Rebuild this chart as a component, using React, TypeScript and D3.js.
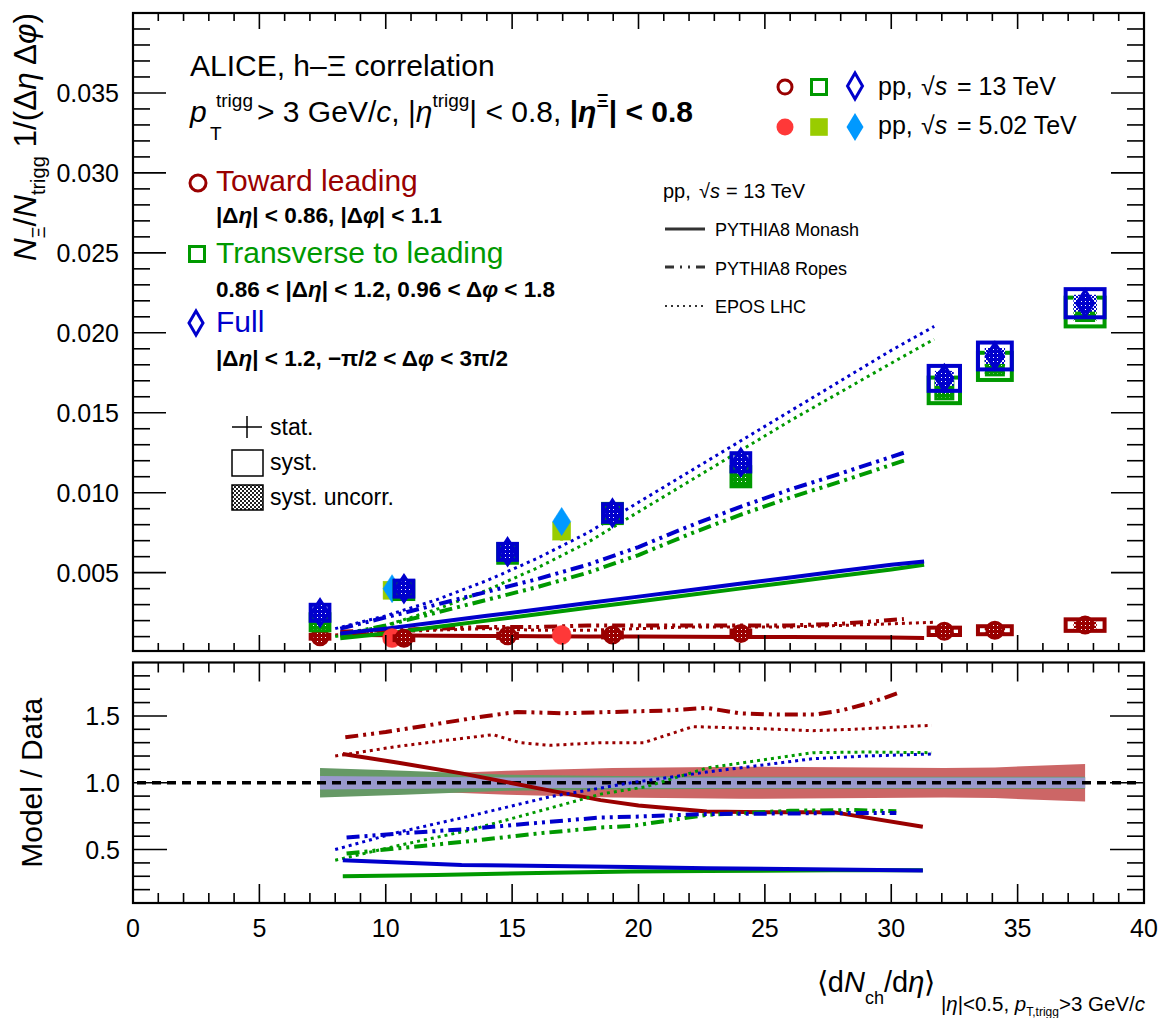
import React from 'react';
import * as d3 from 'd3';

const FONT = "'Liberation Sans', Arial, Helvetica, sans-serif";
const DARKRED = '#990000';
const GREEN = '#009900';
const BLUE = '#0000cc';
const RED502 = '#ff3838';
const LIME502 = '#99cc00';
const AZURE502 = '#0099ff';

// ---- ticks ----
const xTickValues = [0, 5, 10, 15, 20, 25, 30, 35, 40];
const xTickLabels = ['0', '5', '10', '15', '20', '25', '30', '35', '40'];
const yTopTickValues = [0.005, 0.01, 0.015, 0.02, 0.025, 0.03, 0.035];
const yTopTickLabels = ['0.005', '0.010', '0.015', '0.020', '0.025', '0.030', '0.035'];
const yRatioTickValues = [0.5, 1.0, 1.5];
const yRatioTickLabels = ['0.5', '1.0', '1.5'];

// ---- data pp 13 TeV ----
const x13 = [7.4, 10.72, 14.82, 18.97, 24.05, 32.1, 34.1, 37.67];
const x13Sys = [0.37, 0.37, 0.37, 0.37, 0.37, 0.62, 0.67, 0.77];
const toward13 = [0.00099, 0.0009, 0.00105, 0.0011, 0.0012, 0.00133, 0.0014, 0.00172];
const toward13Stat = [0.00005, 0.00005, 0.00005, 0.00005, 0.00006, 0.00008, 0.00008, 0.0001];
const toward13Sys = [0.00012, 0.00012, 0.00013, 0.00015, 0.00018, 0.00023, 0.00025, 0.00036];
const transverse13 = [0.0019, 0.0039, 0.0062, 0.0087, 0.011, 0.0164, 0.0179, 0.0213];
const transverse13Stat = [0.0001, 0.0001, 0.00012, 0.00015, 0.0002, 0.0003, 0.0003, 0.0003];
const transverse13Sys = [0.0005, 0.00055, 0.00058, 0.0006, 0.0006, 0.0008, 0.00085, 0.0009];
const full13 = [0.00249, 0.004, 0.0063, 0.00873, 0.0119, 0.01715, 0.01855, 0.02185];
const full13Stat = [0.0001, 0.0001, 0.00012, 0.00015, 0.0002, 0.0003, 0.0003, 0.0003];
const full13Sys = [0.0005, 0.0005, 0.0005, 0.00055, 0.00057, 0.00078, 0.00084, 0.00088];

// ---- data pp 5.02 TeV ----
const x502 = [10.25, 16.96];
const toward502 = [0.00091, 0.0011];
const toward502Stat = [0.00006, 0.00008];
const transverse502 = [0.0039, 0.0076];
const transverse502Stat = [0.0003, 0.0006];
const full502 = [0.004, 0.0082];
const full502Stat = [0.0004, 0.0007];

// ---- models, top panel ([dNch/deta, value]) ----
const monashToward = [[8.2, 0.00112], [10, 0.00108], [12, 0.00106], [14, 0.00104], [16, 0.00103], [18, 0.00101], [20, 0.001], [22, 0.00099], [24, 0.00098], [26, 0.00097], [28, 0.00096], [30, 0.00094], [31.3, 0.00092]];
const monashTransverse = [[8.2, 0.0009], [10, 0.0012], [12, 0.0016], [14, 0.002], [16, 0.0024], [18, 0.0028], [20, 0.0032], [22, 0.0036], [24, 0.004], [26, 0.0044], [28, 0.0048], [30, 0.0052], [31.3, 0.0055]];
const monashFull = [[8.2, 0.0012], [10, 0.0015], [12, 0.0019], [14, 0.0023], [16, 0.0027], [18, 0.0031], [20, 0.0035], [22, 0.0039], [24, 0.0043], [26, 0.0047], [28, 0.0051], [30, 0.0055], [31.3, 0.0057]];
const ropesToward = [[8.2, 0.0013], [10, 0.0014], [12, 0.0015], [14, 0.0016], [16, 0.0016], [18, 0.0017], [20, 0.0017], [22, 0.0017], [24, 0.0017], [26, 0.0017], [28, 0.0018], [30.5, 0.0021]];
const ropesTransverse = [[8.2, 0.0011], [10, 0.0017], [12, 0.0025], [14, 0.0033], [16, 0.0041], [18, 0.005], [20, 0.0061], [22, 0.0074], [24, 0.0086], [26, 0.0097], [28, 0.0107], [30.5, 0.012]];
const ropesFull = [[8.2, 0.0015], [10, 0.0022], [12, 0.003], [14, 0.0038], [16, 0.0046], [18, 0.0055], [20, 0.0066], [22, 0.0079], [24, 0.0091], [26, 0.0102], [28, 0.0112], [30.5, 0.0125]];
const eposToward = [[8, 0.0011], [10, 0.0013], [12, 0.0014], [14, 0.0015], [16, 0.0014], [18, 0.0014], [20, 0.0015], [22, 0.0016], [24, 0.0016], [26, 0.0016], [28, 0.0017], [30, 0.0018], [31.7, 0.0019]];
const eposTransverse = [[8, 0.001], [10, 0.0017], [12, 0.0027], [14, 0.0039], [16, 0.0053], [18, 0.0069], [20, 0.0088], [22, 0.0107], [24, 0.0126], [26, 0.0145], [28, 0.0163], [30, 0.0181], [31.7, 0.0196]];
const eposFull = [[8, 0.0015], [10, 0.0023], [12, 0.0033], [14, 0.0045], [16, 0.0059], [18, 0.0075], [20, 0.0094], [22, 0.0113], [24, 0.0132], [26, 0.0151], [28, 0.017], [30, 0.0189], [31.7, 0.0204]];

// ---- models, ratio panel ----
const rMonashToward = [[8.3, 1.215], [10.5, 1.15], [13, 1.07], [16, 0.96], [18.5, 0.87], [20, 0.83], [22.7, 0.785], [25, 0.78], [27.7, 0.78], [31.25, 0.67]];
const rMonashTransverse = [[8.3, 0.3], [12, 0.31], [16, 0.325], [19.7, 0.335], [22.7, 0.34], [27.7, 0.345], [31.25, 0.345]];
const rMonashFull = [[8.3, 0.42], [13, 0.385], [19.7, 0.37], [22.7, 0.36], [27.7, 0.35], [31.25, 0.343]];
const rRopesToward = [[8.4, 1.34], [10, 1.38], [12, 1.44], [14, 1.5], [15.2, 1.53], [17, 1.52], [19, 1.53], [21, 1.54], [22.7, 1.56], [24, 1.52], [25.5, 1.51], [27, 1.51], [28, 1.54], [29.2, 1.6], [30.4, 1.68]];
const rRopesTransverse = [[8.45, 0.47], [10.5, 0.51], [13.2, 0.56], [16, 0.62], [18.5, 0.665], [19.7, 0.676], [22.7, 0.76], [26, 0.79], [28.4, 0.796], [30.2, 0.786]];
const rRopesFull = [[8.45, 0.59], [10.5, 0.62], [13.2, 0.653], [16, 0.7], [18.5, 0.74], [19.7, 0.745], [22.7, 0.766], [28.4, 0.773], [30.2, 0.773]];
const rEposToward = [[8, 1.2], [10.4, 1.27], [12.5, 1.32], [14.25, 1.36], [15.3, 1.3], [16.5, 1.28], [18.5, 1.3], [20.2, 1.3], [22.15, 1.42], [24, 1.41], [26.9, 1.39], [28.5, 1.4], [31.6, 1.43]];
const rEposTransverse = [[8, 0.42], [10.5, 0.53], [13.2, 0.64], [16.5, 0.81], [18.5, 0.915], [20.3, 0.97], [22.7, 1.11], [26.9, 1.225], [29, 1.23], [31.6, 1.225]];
const rEposFull = [[8, 0.5], [10.5, 0.63], [13.2, 0.745], [16.5, 0.895], [19.7, 1.0], [22.7, 1.08], [26.9, 1.18], [29, 1.2], [31.6, 1.215]];

// ---- ratio uncertainty bands (half widths at x13) ----
const bandToward = [0.05, 0.06, 0.09, 0.11, 0.12, 0.11, 0.115, 0.14];
const bandTransverse = [0.11, 0.09, 0.06, 0.05, 0.045, 0.045, 0.045, 0.045];
const bandFull = [0.05, 0.045, 0.04, 0.04, 0.04, 0.04, 0.04, 0.04];

const SOLID = 'none';
const DASHDOT = '13,5,3,5,3,5';
const DOTTED = '3,4';

type Shape = 'circle' | 'square' | 'diamond';

function Marker(p: { shape: Shape; cx: number; cy: number; color: string; fill: string; r?: number; hh?: number; sw?: number }) {
  const r = p.r ?? 8;
  const sw = p.sw ?? 3;
  if (p.shape === 'circle') return <circle cx={p.cx} cy={p.cy} r={r} fill={p.fill} stroke={p.color} strokeWidth={sw} />;
  if (p.shape === 'square') return <rect x={p.cx - r} y={p.cy - r} width={2 * r} height={2 * r} fill={p.fill} stroke={p.color} strokeWidth={sw} />;
  const hh = p.hh ?? r * 1.55;
  return <path d={`M${p.cx},${p.cy - hh}L${p.cx + r},${p.cy}L${p.cx},${p.cy + hh}L${p.cx - r},${p.cy}Z`} fill={p.fill} stroke={p.color} strokeWidth={sw} strokeLinejoin="miter" />;
}

export default function App() {
  const x = d3.scaleLinear().domain([0, 40]).range([133, 1144]);
  const yT = d3.scaleLinear().domain([0.0001, 0.04]).range([651, 13]);
  const yR = d3.scaleLinear().domain([0.1, 1.9]).range([903, 662.5]);
  const L = 133, R = 1144, T1 = 13, B1 = 651, T2 = 662.5, B2 = 903;

  const lineT = d3.line<number[]>().x(d => x(d[0])).y(d => yT(d[1]));
  const lineR = d3.line<number[]>().x(d => x(d[0])).y(d => yR(d[1]));

  const xMinor = d3.range(0, 41, 1).filter(v => v % 5 !== 0);
  const yTopMinor = d3.range(1, 40, 1).map(v => v / 1000).filter(v => Math.round(v * 1000) % 5 !== 0);
  const yRMinor = d3.range(2, 19, 1).map(v => v / 10).filter(v => Math.round(v * 10) % 5 !== 0);

  const ticks: JSX.Element[] = [];
  let k = 0;
  const tl = (x1: number, y1: number, x2: number, y2: number) => ticks.push(<line key={k++} x1={x1} y1={y1} x2={x2} y2={y2} stroke="#000" strokeWidth={1.6} />);
  xTickValues.forEach(v => { tl(x(v), B1, x(v), B1 - 16); tl(x(v), T1, x(v), T1 + 16); });
  xMinor.forEach(v => { tl(x(v), B1, x(v), B1 - 8); tl(x(v), T1, x(v), T1 + 8); });
  yTopTickValues.forEach(v => { tl(L, yT(v), L + 33, yT(v)); tl(R, yT(v), R - 33, yT(v)); });
  yTopMinor.forEach(v => { tl(L, yT(v), L + 17, yT(v)); tl(R, yT(v), R - 17, yT(v)); });
  xTickValues.forEach(v => { tl(x(v), B2, x(v), B2 - 19); tl(x(v), T2, x(v), T2 + 19); });
  xMinor.forEach(v => { tl(x(v), B2, x(v), B2 - 10); tl(x(v), T2, x(v), T2 + 10); });
  yRatioTickValues.forEach(v => { tl(L, yR(v), L + 34, yR(v)); tl(R, yR(v), R - 34, yR(v)); });
  yRMinor.forEach(v => { tl(L, yR(v), L + 17, yR(v)); tl(R, yR(v), R - 17, yR(v)); });

  const band = (hw: number[]) =>
    d3.area<number>().x((_, i) => x(x13[i])).y0((_, i) => yR(1 - hw[i])).y1((_, i) => yR(1 + hw[i]))(x13) || '';

  const models: [number[][], string, string, number][] = [
    [eposToward, DARKRED, DOTTED, 3], [ropesToward, DARKRED, DASHDOT, 4], [monashToward, DARKRED, SOLID, 4],
    [eposTransverse, GREEN, DOTTED, 3], [ropesTransverse, GREEN, DASHDOT, 4], [monashTransverse, GREEN, SOLID, 4],
    [eposFull, BLUE, DOTTED, 3], [ropesFull, BLUE, DASHDOT, 4], [monashFull, BLUE, SOLID, 4],
  ];
  const rModels: [number[][], string, string, number][] = [
    [rEposToward, DARKRED, DOTTED, 3], [rRopesToward, DARKRED, DASHDOT, 4], [rMonashToward, DARKRED, SOLID, 4],
    [rEposTransverse, GREEN, DOTTED, 3], [rRopesTransverse, GREEN, DASHDOT, 4], [rMonashTransverse, GREEN, SOLID, 4],
    [rEposFull, BLUE, DOTTED, 3], [rRopesFull, BLUE, DASHDOT, 4], [rMonashFull, BLUE, SOLID, 4],
  ];

  const series13: [number[], number[], number[], string, string, Shape][] = [
    [toward13, toward13Stat, toward13Sys, DARKRED, 'dr', 'circle'],
    [transverse13, transverse13Stat, transverse13Sys, GREEN, 'gr', 'square'],
    [full13, full13Stat, full13Sys, BLUE, 'bl', 'diamond'],
  ];
  const series502: [number[], number[], string, Shape][] = [
    [toward502, toward502Stat, RED502, 'circle'],
    [transverse502, transverse502Stat, LIME502, 'square'],
    [full502, full502Stat, AZURE502, 'diamond'],
  ];

  const pats: [string, string][] = [['dr', DARKRED], ['gr', GREEN], ['bl', BLUE], ['gy', '#222']];

  const txt = { fontFamily: FONT, whiteSpace: 'pre' as const };

  return (
    <svg width={1162} height={1018} style={{ position: 'absolute', left: 0, top: 0, background: '#fff' }} fontFamily={FONT}>
      <defs>
        {pats.map(([id, c]) => (
          <pattern key={'c' + id} id={'chk-' + id} width={4} height={4} patternUnits="userSpaceOnUse">
            <rect width={4} height={4} fill="#fff" />
            <rect width={2} height={2} fill={c} />
            <rect x={2} y={2} width={2} height={2} fill={c} />
          </pattern>
        ))}
        {pats.map(([id, c]) => (
          <pattern key={'d' + id} id={'den-' + id} width={4} height={4} patternUnits="userSpaceOnUse">
            <rect width={4} height={4} fill={c} />
            <rect x={1} y={1} width={1} height={1} fill="#fff" />
          </pattern>
        ))}
      </defs>
      <rect width={1162} height={1018} fill="#fff" />

      {/* ===== ratio panel bands ===== */}
      <path d={band(bandToward)} fill="#cc6666" />
      <path d={band(bandTransverse)} fill="#669966" />
      <path d={band(bandFull)} fill="#9999cc" />
      <line x1={L + 4} x2={R - 4} y1={yR(1)} y2={yR(1)} stroke="#000" strokeWidth={3.5} strokeDasharray="9,6" />
      {rModels.map(([d, c, dash, w], i) => (
        <path key={'rm' + i} d={lineR(d) || ''} fill="none" stroke={c} strokeWidth={w} strokeDasharray={dash} />
      ))}

      {/* ===== top panel model lines ===== */}
      {models.map(([d, c, dash, w], i) => (
        <path key={'m' + i} d={lineT(d) || ''} fill="none" stroke={c} strokeWidth={w} strokeDasharray={dash} />
      ))}

      {/* ===== 5.02 TeV data ===== */}
      {series502.map(([vals, stat, c, shape], s) => (
        <g key={'s502' + s}>
          {vals.map((v, i) => (
            <g key={i}>
              <line x1={x(x502[i])} x2={x(x502[i])} y1={yT(v - stat[i])} y2={yT(v + stat[i])} stroke={c} strokeWidth={3} />
              <Marker shape={shape} cx={x(x502[i])} cy={yT(v)} color={c} fill={c} r={shape === 'circle' ? 9.5 : 9} hh={14} sw={0.5} />
            </g>
          ))}
        </g>
      ))}

      {/* ===== 13 TeV data ===== */}
      {series13.map(([vals, stat, sys, c, id, shape], s) => (
        <g key={'s13' + s}>
          {vals.map((v, i) => {
            const x0 = x(x13[i] - x13Sys[i]);
            const x1 = x(x13[i] + x13Sys[i]);
            const w = x1 - x0;
            return (
              <g key={i}>
                <rect x={x0 + w * 0.2} y={yT(v + sys[i] * 0.6)} width={w * 0.6} height={yT(v - sys[i] * 0.6) - yT(v + sys[i] * 0.6)} fill={`url(#chk-${id})`} />
                <rect x={x0} y={yT(v + sys[i])} width={w} height={yT(v - sys[i]) - yT(v + sys[i])} fill="none" stroke={c} strokeWidth={4} />
                <line x1={x(x13[i])} x2={x(x13[i])} y1={yT(v - stat[i])} y2={yT(v + stat[i])} stroke={c} strokeWidth={3} />
                <Marker shape={shape} cx={x(x13[i])} cy={yT(v)} color={c} fill={`url(#den-${id})`} r={shape === 'circle' ? 8 : 8.5} hh={13} sw={3} />
              </g>
            );
          })}
        </g>
      ))}

      {/* ===== frames and ticks ===== */}
      <rect x={L} y={T1} width={R - L} height={B1 - T1} fill="none" stroke="#000" strokeWidth={2.2} />
      <rect x={L} y={T2} width={R - L} height={B2 - T2} fill="none" stroke="#000" strokeWidth={2.2} />
      {ticks}

      {/* tick labels */}
      {yTopTickValues.map((v, i) => (
        <text key={'yl' + i} x={119} y={yT(v) + 9} fontSize={25} textAnchor="end" style={txt}>{yTopTickLabels[i]}</text>
      ))}
      {yRatioTickValues.map((v, i) => (
        <text key={'yr' + i} x={120} y={yR(v) + 9} fontSize={25} textAnchor="end" style={txt}>{yRatioTickLabels[i]}</text>
      ))}
      {xTickValues.map((v, i) => (
        <text key={'xl' + i} x={x(v)} y={937} fontSize={25} textAnchor="middle" style={txt}>{xTickLabels[i]}</text>
      ))}

      {/* axis titles */}
      <text transform="translate(36,13) rotate(-90)" textAnchor="end" fontSize={31.5} style={txt}>
        <tspan fontStyle="italic">N</tspan>
        <tspan fontSize={18} dy={9}>Ξ</tspan>
        <tspan dy={-9}>/</tspan>
        <tspan fontStyle="italic">N</tspan>
        <tspan fontSize={20} dy={9}>trigg</tspan>
        <tspan dy={-9}>{' 1/(Δ'}</tspan>
        <tspan fontStyle="italic">η</tspan>
        <tspan>{' Δ'}</tspan>
        <tspan fontStyle="italic">φ</tspan>
        <tspan>)</tspan>
      </text>
      <text transform={`translate(42,${yR(1)}) rotate(-90)`} textAnchor="middle" fontSize={30} style={txt}>Model / Data</text>
      <text x={1145} y={992} fontSize={29} textAnchor="end" style={txt}>
        <tspan>⟨d</tspan>
        <tspan fontStyle="italic">N</tspan>
        <tspan fontSize={18} dy={12}>ch</tspan>
        <tspan dy={-12}>/d</tspan>
        <tspan fontStyle="italic">η</tspan>
        <tspan>⟩</tspan>
        <tspan fontSize={20.5} dy={19}>{' |'}</tspan>
        <tspan fontSize={20.5} fontStyle="italic">η</tspan>
        <tspan fontSize={20.5}>{'|<0.5, '}</tspan>
        <tspan fontSize={20.5} fontStyle="italic">p</tspan>
        <tspan fontSize={12} dy={5}>T,trigg</tspan>
        <tspan fontSize={20.5} dy={-5}>{'>3 GeV/'}</tspan>
        <tspan fontSize={20.5} fontStyle="italic">c</tspan>
      </text>

      {/* ===== header ===== */}
      <text x={190} y={76} fontSize={30} style={txt}>ALICE, h–Ξ correlation</text>
      <text y={122} fontSize={30} style={txt}>
        <tspan x={190} fontStyle="italic">p</tspan>
        <tspan x={216} y={107} fontSize={19}>trigg</tspan>
        <tspan x={210} y={140} fontSize={19}>T</tspan>
        <tspan x={257} y={122}>{'> 3 GeV/'}</tspan>
        <tspan fontStyle="italic">c</tspan>
        <tspan>{', |'}</tspan>
        <tspan fontStyle="italic">η</tspan>
        <tspan fontSize={19} dy={-15}>trigg</tspan>
        <tspan dy={15}>{'| < 0.8, '}</tspan>
        <tspan fontWeight="bold">|</tspan>
        <tspan fontStyle="italic" fontWeight="bold">η</tspan>
        <tspan fontSize={19} dy={-15} fontWeight="bold">Ξ</tspan>
        <tspan dy={15} fontWeight="bold">{'| < 0.8'}</tspan>
      </text>

      {/* ===== left legend ===== */}
      <Marker shape="circle" cx={198} cy={183} color={DARKRED} fill="none" r={8} sw={3} />
      <text x={216} y={191} fontSize={30} fill={DARKRED} style={txt}>Toward leading</text>
      <text x={216} y={223} fontSize={22.5} fontWeight="bold" style={txt}>
        <tspan>|Δ</tspan><tspan fontStyle="italic">η</tspan><tspan>{'| < 0.86, |Δ'}</tspan><tspan fontStyle="italic">φ</tspan><tspan>{'| < 1.1'}</tspan>
      </text>
      <Marker shape="square" cx={197} cy={254} color={GREEN} fill="none" r={7.5} sw={3} />
      <text x={216} y={263} fontSize={30} fill={GREEN} style={txt}>Transverse to leading</text>
      <text x={216} y={297} fontSize={22.5} fontWeight="bold" style={txt}>
        <tspan>{'0.86 < |Δ'}</tspan><tspan fontStyle="italic">η</tspan><tspan>{'| < 1.2, 0.96 < Δ'}</tspan><tspan fontStyle="italic">φ</tspan><tspan>{' < 1.8'}</tspan>
      </text>
      <Marker shape="diamond" cx={196} cy={323} color={BLUE} fill="none" r={7} hh={12} sw={3} />
      <text x={216} y={332} fontSize={30} fill={BLUE} style={txt}>Full</text>
      <text x={216} y={366} fontSize={22.5} fontWeight="bold" style={txt}>
        <tspan>|Δ</tspan><tspan fontStyle="italic">η</tspan><tspan>{'| < 1.2, −π/2 < Δ'}</tspan><tspan fontStyle="italic">φ</tspan><tspan>{' < 3π/2'}</tspan>
      </text>

      {/* stat / syst legend */}
      <line x1={232} x2={262} y1={427} y2={427} stroke="#000" strokeWidth={1.5} />
      <line x1={247} x2={247} y1={416} y2={438} stroke="#000" strokeWidth={1.5} />
      <text x={270} y={435} fontSize={23} style={txt}>stat.</text>
      <rect x={232} y={450} width={31} height={26} fill="none" stroke="#000" strokeWidth={1.5} />
      <text x={270} y={470} fontSize={23} style={txt}>syst.</text>
      <rect x={232} y={485} width={31} height={25} fill="url(#chk-gy)" stroke="#000" strokeWidth={1.5} />
      <text x={270} y={505} fontSize={23} style={txt}>syst. uncorr.</text>

      {/* ===== right legend ===== */}
      <Marker shape="circle" cx={785} cy={87} color={DARKRED} fill="none" r={7} sw={3} />
      <Marker shape="square" cx={819} cy={87} color={GREEN} fill="none" r={7.5} sw={3} />
      <Marker shape="diamond" cx={855} cy={86} color={BLUE} fill="none" r={7.5} hh={13} sw={3} />
      <text y={95} fontSize={25} style={txt}>
        <tspan x={878}>{'pp,'}</tspan><tspan x={921}>√</tspan><tspan fontStyle="italic">s</tspan><tspan x={957}>{'= 13 TeV'}</tspan>
      </text>
      <Marker shape="circle" cx={785} cy={127} color={RED502} fill={RED502} r={8.5} sw={0} />
      <Marker shape="square" cx={819} cy={127} color={LIME502} fill={LIME502} r={8.8} sw={0} />
      <Marker shape="diamond" cx={855} cy={127} color={AZURE502} fill={AZURE502} r={8.5} hh={14} sw={0} />
      <text y={134} fontSize={25} style={txt}>
        <tspan x={878}>{'pp,'}</tspan><tspan x={921}>√</tspan><tspan fontStyle="italic">s</tspan><tspan x={957}>{'= 5.02 TeV'}</tspan>
      </text>

      {/* model legend */}
      <text y={198} fontSize={20} style={txt}>
        <tspan x={663}>{'pp,'}</tspan><tspan x={699}>√</tspan><tspan fontStyle="italic">s</tspan><tspan x={726}>{'= 13 TeV'}</tspan>
      </text>
      <line x1={665} x2={705} y1={229} y2={229} stroke="#333" strokeWidth={3} />
      <text x={715} y={236} fontSize={18} style={txt}>PYTHIA8 Monash</text>
      <line x1={665} x2={705} y1={267} y2={267} stroke="#333" strokeWidth={3} strokeDasharray="9,6,2,6,2,6" />
      <text x={715} y={275} fontSize={18} style={txt}>PYTHIA8 Ropes</text>
      <line x1={665} x2={705} y1={306} y2={306} stroke="#333" strokeWidth={2} strokeDasharray="2,4" />
      <text x={715} y={313} fontSize={18} style={txt}>EPOS LHC</text>
    </svg>
  );
}
